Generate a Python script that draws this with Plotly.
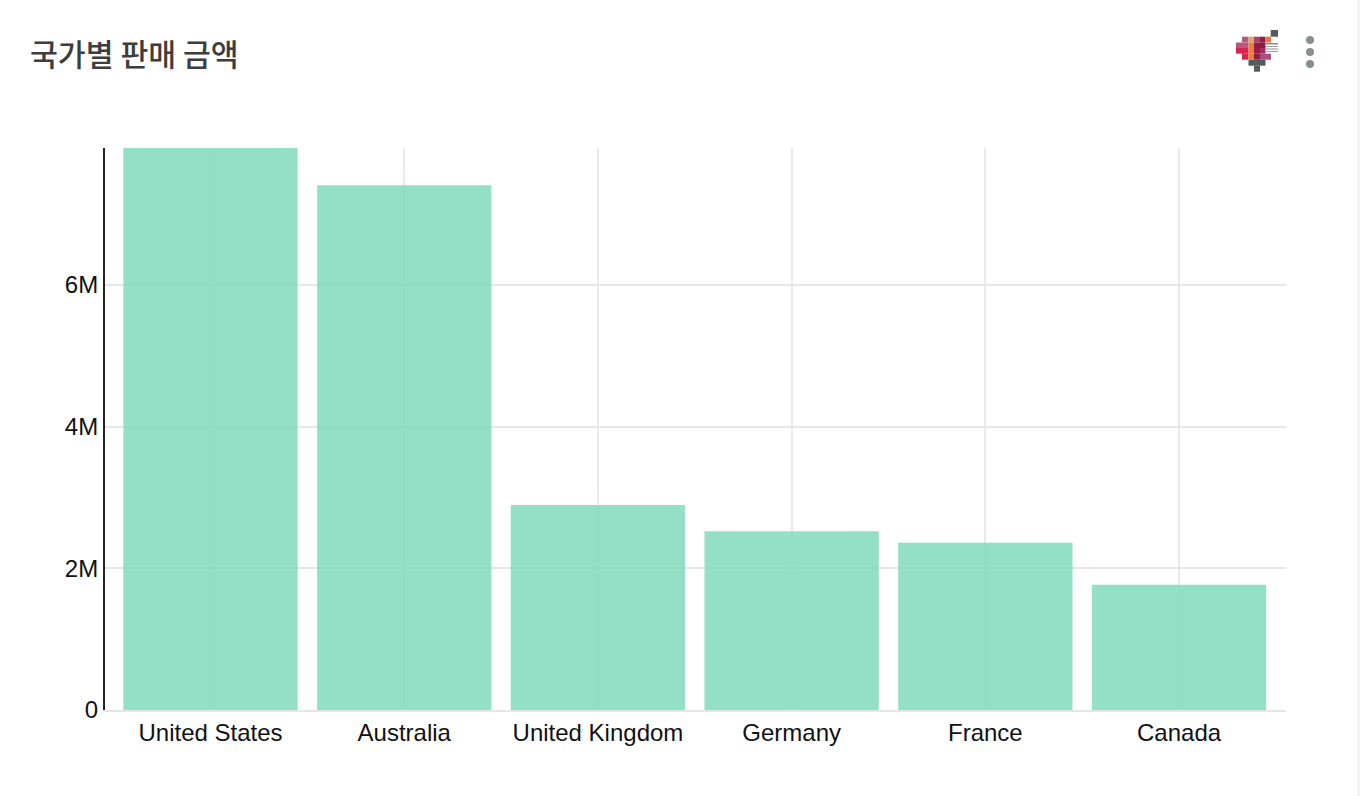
import plotly.graph_objects as go

W, H = 1360, 796
L, R, T, B = 105, 1286, 148, 710

countries = ["United States", "Australia", "United Kingdom", "Germany", "France", "Canada"]
sales = [7950000, 7410000, 2895000, 2525000, 2360000, 1770000]
y_ticks = [0, 2000000, 4000000, 6000000]
y_tick_labels = ["0", "2M", "4M", "6M"]
y_top = 7935000
x_span = [-0.5447, 5.552]
title_text = "국가별 판매 금액"

# Small pixel-heart logo in the card header: x0, x1, y0, y1, colour (page pixels)
logo_cells = [
    (1270.7, 1278, 30, 36.7, "#565a5a"),
    (1242, 1248.5, 36.7, 42.5, "#b9587f"), (1248.5, 1254, 36.7, 42.5, "#d9a565"),
    (1254, 1260, 36.7, 42.5, "#b04068"),
    (1260, 1265.5, 36.7, 42.5, "#8f1c45"), (1265.5, 1271, 36.7, 42.5, "#e5783f"),
    (1236, 1248.5, 42.5, 48, "#b9587f"), (1248.5, 1254, 42.5, 48, "#e8803c"),
    (1254, 1265.5, 42.5, 48, "#8f1c45"),
    (1265.5, 1278, 43, 44.5, "#8a8a90"), (1265.5, 1278, 46, 47, "#a0a0a6"),
    (1236, 1248.5, 48, 53.7, "#d8244f"), (1248.5, 1254, 48, 53.7, "#e8803c"),
    (1254, 1260, 48, 53.7, "#a01848"), (1260, 1265.5, 48, 53.7, "#a03060"),
    (1265.5, 1278, 48.5, 49.5, "#8a8a90"), (1265.5, 1278, 51, 52, "#a0a0a6"),
    (1242, 1248.5, 53.7, 59.7, "#d8244f"), (1248.5, 1254, 53.7, 59.7, "#e8803c"),
    (1254, 1260, 53.7, 59.7, "#8f1c45"), (1260, 1271, 53.7, 59.7, "#a8507a"),
    (1248.5, 1265.5, 59.7, 65.7, "#565a5a"),
    (1254, 1260, 65.7, 71.7, "#565a5a"),
]
menu_dots = [(1310, 40), (1310, 52), (1310, 64)]

px = lambda x: (x - L) / (R - L)
py = lambda y: (B - y) / (B - T)

shapes = []
for x0, x1, y0, y1, c in logo_cells:
    shapes.append(dict(type="rect", xref="paper", yref="paper", x0=px(x0), x1=px(x1),
                       y0=py(y0), y1=py(y1), fillcolor=c, line_width=0))
for cx, cy in menu_dots:
    shapes.append(dict(type="circle", xref="paper", yref="paper", x0=px(cx - 4), x1=px(cx + 4),
                       y0=py(cy - 4), y1=py(cy + 4), fillcolor="#86908c", line_width=0))
shapes.append(dict(type="line", xref="paper", yref="paper", x0=px(1358.5), x1=px(1358.5),
                   y0=py(0), y1=py(796), line=dict(color="#f0f0f0", width=2)))

fig = go.Figure(go.Bar(
    x=countries, y=sales,
    marker=dict(color="rgba(128,218,188,0.84)", line_width=0),
    hoverinfo="x+y",
))
fig.update_layout(
    width=W, height=H,
    margin=dict(l=L, r=W - R, t=T, b=H - B),
    paper_bgcolor="white", plot_bgcolor="white",
    bargap=0.1, showlegend=False, shapes=shapes,
    font=dict(family="Liberation Sans, Arial, sans-serif", size=24, color="#111111"),
    title=dict(text=title_text, xref="container", yref="container",
               x=30 / W, xanchor="left", y=1 - 55 / H, yanchor="middle",
               font=dict(family="Noto Sans CJK KR", size=30.3, color="#3d3d3d", weight=500)),
)
fig.update_xaxes(type="category", range=x_span, showgrid=True, gridcolor="#e9e9e9", gridwidth=1.5,
                 showline=True, linecolor="#e6e6e6", linewidth=2, ticks="", zeroline=False,
                 tickfont=dict(size=24), automargin=False)
fig.update_yaxes(range=[0, y_top], tickmode="array", tickvals=y_ticks, ticktext=y_tick_labels,
                 showgrid=True, gridcolor="#e6e6e6", gridwidth=2, zeroline=False,
                 showline=True, linecolor="#222222", linewidth=2, ticks="",
                 tickfont=dict(size=24), automargin=False)

fig.write_html("out.html", config=dict(displayModeBar=False),
               post_script="document.body.style.margin='0';document.body.style.overflow='hidden';")
